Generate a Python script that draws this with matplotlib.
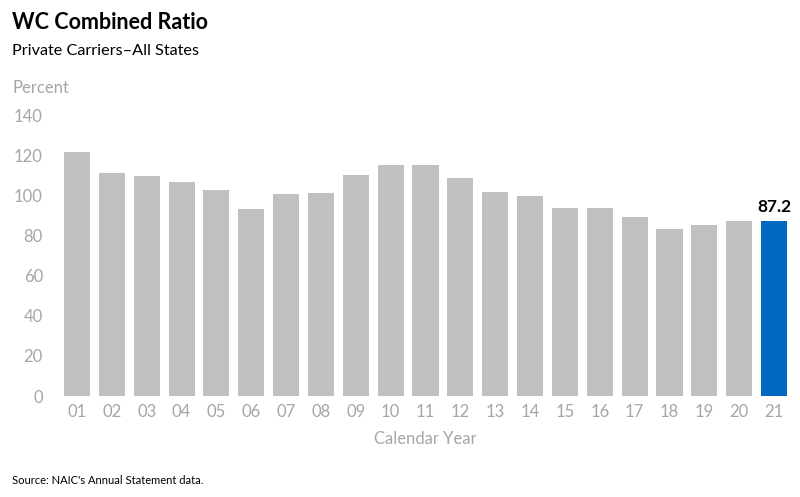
import matplotlib
matplotlib.use("Agg")
import matplotlib.pyplot as plt
import numpy as np

plt.rcParams['font.family'] = ['Lato', 'DejaVu Sans']

# data
years = ['01', '02', '03', '04', '05', '06', '07', '08', '09', '10', '11',
         '12', '13', '14', '15', '16', '17', '18', '19', '20', '21']
ratio = [121.6, 111.0, 109.6, 106.6, 102.5, 93.2, 100.6, 101.0, 110.1, 114.9, 115.3,
         108.6, 101.5, 99.7, 93.7, 93.7, 89.2, 83.2, 85.2, 87.0, 87.2]
yticks = [0, 20, 40, 60, 80, 100, 120, 140]

gray = '#C0C0C0'
blue = '#0068C0'
label_col = '#A6A6A6'

fig = plt.figure(figsize=(8, 4.97), dpi=100)
ax = fig.add_axes([0.0745, 0.2032, 0.9148, 0.5654])

x = np.arange(len(years))
colors = [gray] * (len(years) - 1) + [blue]
ax.bar(x, ratio, width=0.75, color=colors, edgecolor='none')

# label on latest year
ax.text(x[-1], ratio[-1] + 3, f'{ratio[-1]:.1f}', ha='center', va='bottom',
        fontsize=12.5, fontweight='bold', color='black')

ax.set_xlim(-0.5, len(years) - 0.5)
ax.set_ylim(0, 140)
ax.set_xticks(x)
ax.set_xticklabels(years)
ax.set_yticks(yticks)
for s in ax.spines.values():
    s.set_visible(False)
ax.tick_params(axis='both', length=0, colors=label_col, labelsize=12)
ax.tick_params(axis='y', pad=12)
ax.tick_params(axis='x', pad=6)
ax.set_xlabel('Calendar Year', color=label_col, fontsize=12, labelpad=8)

fig.text(0.015, 0.955, 'WC Combined Ratio', fontsize=15.5, fontweight='bold',
         color='black', ha='left', va='center')
fig.text(0.015, 0.897, 'Private Carriers\u2013All States', fontsize=11.7,
         color='black', ha='left', va='center')
fig.text(0.015, 0.823, 'Percent', fontsize=12, color=label_col, ha='left', va='center')
fig.text(0.015, 0.033, "Source: NAIC's Annual Statement data.", fontsize=8,
         color='black', ha='left', va='center')

fig.savefig('out.png', dpi=100)
